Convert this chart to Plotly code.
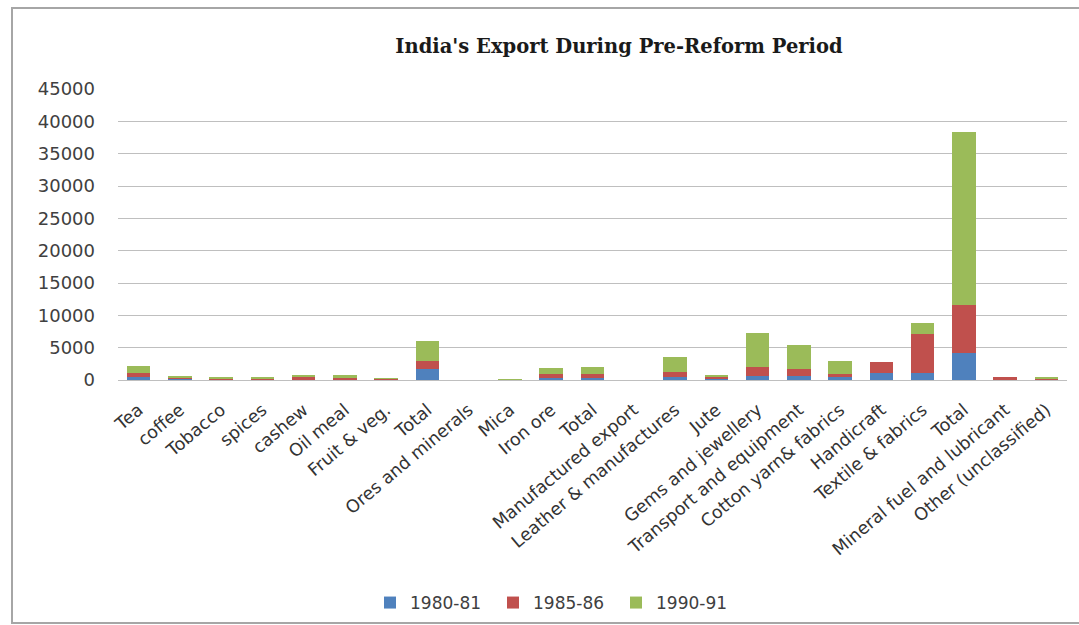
import plotly.graph_objects as go

# Export categories (Rs. crore), grouped by sector with sub-totals
categories = [
    "Tea", "coffee", "Tobacco", "spices", "cashew", "Oil meal", "Fruit & veg.",
    "Total", "Ores and minerals", "Mica", "Iron ore", "Total",
    "Manufactured export", "Leather & manufactures", "Jute", "Gems and jewellery",
    "Transport and equipment", "Cotton yarn& fabrics", "Handicraft",
    "Textile & fabrics", "Total", "Mineral fuel and lubricant", "Other (unclassified)",
]

exports_1980_81 = [426, 200, 140, 110, 140, 125, 80, 1700, 0, 40, 300, 340,
                   0, 390, 300, 620, 650, 410, 1150, 1040, 4130, 40, 130]
exports_1985_86 = [627, 220, 160, 130, 250, 140, 90, 1200, 0, 20, 600, 600,
                   0, 850, 200, 1350, 1050, 560, 1570, 6080, 7480, 480, 100]
exports_1990_91 = [1070, 150, 160, 160, 320, 510, 80, 3070, 0, 30, 1000, 1000,
                   0, 2330, 280, 5300, 3760, 1900, 0, 1660, 26730, 0, 130]

series_names = ["1980-81", "1985-86", "1990-91"]
series_colors = ["#4F81BD", "#C0504D", "#9BBB59"]
y_ticks = [0, 5000, 10000, 15000, 20000, 25000, 30000, 35000, 40000, 45000]

positions = list(range(len(categories)))

fig = go.Figure()
for name, values, color in zip(series_names,
                               [exports_1980_81, exports_1985_86, exports_1990_91],
                               series_colors):
    fig.add_trace(go.Bar(x=positions, y=values, name=name,
                         marker=dict(color=color, line=dict(width=0))))

W, H = 1079, 625
left, right, top, bottom = 118, 1067, 89, 380
pw, ph = right - left, bottom - top

fig.update_layout(
    width=W, height=H,
    barmode="stack", bargap=0.43,
    paper_bgcolor="white", plot_bgcolor="white",
    margin=dict(l=left, r=W - right, t=top, b=H - bottom, pad=0, autoexpand=False),
    font=dict(family="DejaVu Sans", color="#404040"),
    title=dict(text="<b>India's Export During Pre-Reform Period</b>",
               font=dict(family="DejaVu Serif", size=19.5, color="#1a1a1a"),
               x=619 / W, xanchor="center", y=1 - 46 / H, yanchor="middle"),
    showlegend=True,
    legend=dict(orientation="h", x=(370 - left) / pw, xanchor="left",
                y=(bottom - 603) / ph, yanchor="middle",
                bgcolor="rgba(0,0,0,0)",
                font=dict(size=17, color="#404040"), itemwidth=30,
                entrywidth=78, traceorder="normal"),
    xaxis=dict(tickmode="array", tickvals=positions, ticktext=categories,
               tickangle=-40, tickfont=dict(size=17.5, color="#333333"),
               range=[-0.5, len(categories) - 0.5], showgrid=False,
               showline=True, linecolor="#BFBFBF", linewidth=1, ticks="",
               ticklabelstandoff=12),
    yaxis=dict(range=[0, 45000], tickvals=y_ticks,
               ticktext=[str(v) for v in y_ticks],
               tickfont=dict(size=18, color="#404040"),
               showgrid=True, gridcolor="#BFBFBF", gridwidth=1,
               zeroline=False, showline=False, ticks="", ticklabelstandoff=22),
    shapes=[dict(type="rect", xref="paper", yref="paper",
                 x0=(12 - left) / pw, x1=(W + 20 - left) / pw,
                 y0=(bottom - (H - 2)) / ph, y1=(bottom - 8) / ph,
                 line=dict(color="#A6A6A6", width=2), fillcolor="rgba(0,0,0,0)",
                 layer="below")],
)

fig.write_html("out.html")
